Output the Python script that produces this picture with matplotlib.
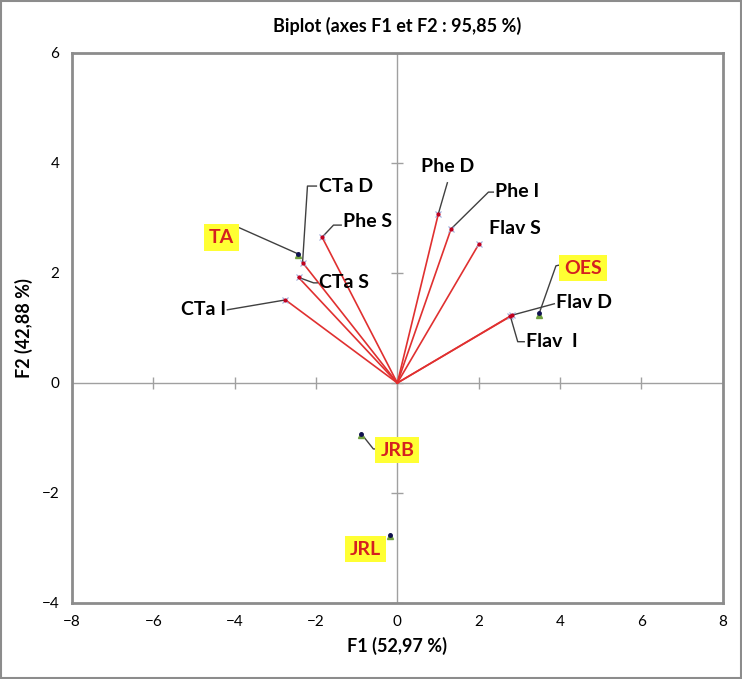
import numpy as np
import matplotlib
matplotlib.use("Agg")
import matplotlib.pyplot as plt

plt.rcParams['font.family'] = ['Lato', 'DejaVu Sans']

# variables (vecteurs)
var_noms = ['CTa D', 'Phe S', 'CTa S', 'CTa I', 'Phe D', 'Phe I', 'Flav S', 'Flav D', 'Flav  I']
var_f1 = np.array([-2.33, -1.85, -2.43, -2.75, 1.01, 1.32, 2.00, 2.81, 2.78])
var_f2 = np.array([2.19, 2.65, 1.92, 1.51, 3.08, 2.80, 2.52, 1.23, 1.21])

# observations
obs_noms = ['TA', 'OES', 'JRB', 'JRL']
obs_f1 = np.array([-2.45, 3.49, -0.89, -0.18])
obs_f2 = np.array([2.35, 1.27, -0.92, -2.76])

xticks = np.arange(-8, 9, 2)
yticks = np.arange(-4, 7, 2)

# position des etiquettes : (x texte, y texte, alignement, coude(s) du trait)
pos_var = {
    'CTa D': (-1.92, 3.58, 'left', [(-2.21, 3.58), (-1.99, 3.58)]),
    'Phe S': (-1.33, 2.93, 'left', [(-1.57, 2.87), (-1.38, 2.87)]),
    'CTa S': (-1.92, 1.82, 'left', [(-2.06, 1.82), (-1.97, 1.82)]),
    'CTa I': (-4.22, 1.33, 'right', [(-4.18, 1.33)]),
    'Phe D': (1.23, 3.93, 'center', [(1.23, 3.64)]),
    'Phe I': (2.41, 3.49, 'left', [(2.24, 3.47), (2.36, 3.47)]),
    'Flav S': (2.88, 2.80, 'center', []),
    'Flav D': (3.91, 1.47, 'left', [(3.86, 1.44)]),
    'Flav  I': (3.17, 0.75, 'left', [(2.96, 0.75), (3.12, 0.75)]),
}
pos_obs = {
    'TA': (-4.32, 2.65, [(-3.88, 2.82)]),
    'OES': (4.57, 2.09, [(3.9, 2.13), (4.03, 2.15)]),
    'JRB': (0.0, -1.22, [(-0.59, -1.2), (-0.47, -1.2)]),
    'JRL': (-0.79, -3.02, []),
}

fig = plt.figure(figsize=(7.42, 6.79), dpi=100)
ax = fig.add_axes([0.097, 0.112, 0.877, 0.810])

# axes passant par zero
ax.axhline(0, color='#a0a0a0', lw=1, zorder=1)
ax.axvline(0, color='#a0a0a0', lw=1, zorder=1)
ax.plot(xticks, np.zeros_like(xticks), ls='none', marker='|', ms=8, color='#a0a0a0', zorder=1)
ax.plot(np.zeros_like(yticks), yticks, ls='none', marker='_', ms=8, color='#a0a0a0', zorder=1)

# vecteurs
for x, y in zip(var_f1, var_f2):
    ax.plot([0, x], [0, y], color='#e03030', lw=1.2, zorder=2)
ax.plot(var_f1, var_f2, ls='none', marker='x', ms=4, mew=0.8, color='#9aa8d8', zorder=3)
ax.plot(var_f1, var_f2, ls='none', marker='o', ms=2, color='#c00020', zorder=4)

# observations
ax.plot(obs_f1, obs_f2 - 0.03, ls='none', marker='^', ms=4, color='#70a040', zorder=3)
ax.plot(obs_f1, obs_f2, ls='none', marker='o', ms=2.5, color='#101050', zorder=4)

lead = '#404040'
for nom, x, y in zip(var_noms, var_f1, var_f2):
    tx, ty, ha, coude = pos_var[nom]
    if coude:
        px = [x] + [c[0] for c in coude]
        py = [y] + [c[1] for c in coude]
        ax.plot(px, py, color=lead, lw=1, zorder=2)
    ax.text(tx, ty, nom, ha=ha, va='center', fontsize=14, fontweight='bold', color='black')

for nom, x, y in zip(obs_noms, obs_f1, obs_f2):
    tx, ty, coude = pos_obs[nom]
    if coude:
        px = [x] + [c[0] for c in coude]
        py = [y] + [c[1] for c in coude]
        ax.plot(px, py, color=lead, lw=1, zorder=2)
    ax.text(tx, ty, nom, ha='center', va='center', fontsize=14, fontweight='bold',
            color='#d42020', bbox=dict(boxstyle='square,pad=0.25', fc='#ffff33', ec='none'))

ax.set_xlim(-8, 8)
ax.set_ylim(-4, 6)
ax.set_xticks(xticks)
ax.set_yticks(yticks)
ax.tick_params(length=0, labelsize=11, pad=9)
for s in ax.spines.values():
    s.set_color('#8c8c8c')
    s.set_linewidth(2)

ax.set_xlabel('F1 (52,97 %)', fontsize=13, fontweight='bold', labelpad=5)
ax.set_ylabel('F2 (42,88 %)', fontsize=13, fontweight='bold', labelpad=6)
ax.set_title('Biplot (axes F1 et F2 : 95,85 %)', fontsize=13, fontweight='bold', pad=15)

# cadre du graphique
fig.patches.append(plt.Rectangle((0.002, 0.002), 0.996, 0.996, transform=fig.transFigure,
                                 fill=False, ec='#8c8c8c', lw=1.5))

fig.savefig('out.png', dpi=100)
